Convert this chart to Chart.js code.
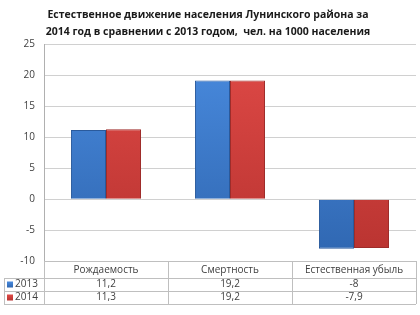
<!DOCTYPE html>
<html lang="ru">
<head>
  <meta charset="UTF-8">
  <title>Естественное движение населения</title>
  <script src="https://cdn.jsdelivr.net/npm/chart.js"></script>
  <style>
    body { margin: 0; padding: 0; background: #fff; }
    #wrap { width: 420px; height: 315px; }
  </style>
</head>
<body>
  <div id="wrap"><canvas id="chart" width="420" height="315"></canvas></div>

  <script>
    const categories = ["Рождаемость", "Смертность", "Естественная убыль"];
    const seriesNames = ["2013", "2014"];
    const values2013 = [11.2, 19.2, -8];
    const values2014 = [11.3, 19.2, -7.9];
    const titleLines = [
      "Естественное движение населения Лунинского района за",
      "2014 год в сравнении с 2013 годом,  чел. на 1000 населения"
    ];

    const FONT = "'Open Sans', 'Liberation Sans', sans-serif";
    const blue = ["#4a8ce0", "#2f66b0", "#2a5a9c"];
    const red = ["#e04a47", "#b83330", "#9e2c2a"];

    function fillGrad(cols) {
      return ctx => {
        const c = ctx.chart;
        const area = c.chartArea;
        if (!area) return cols[0];
        const g = c.ctx.createLinearGradient(0, area.top, 0, area.bottom);
        g.addColorStop(0, cols[0]);
        g.addColorStop(1, cols[1]);
        return g;
      };
    }

    function fmt(v) {
      return String(v).replace(".", ",");
    }

    // data table under the plot, aligned with the x scale
    const dataTable = {
      id: "dataTable",
      afterDraw(chart) {
        const ctx = chart.ctx;
        const a = chart.chartArea;
        const x = chart.scales.x;
        const colW = (a.right - a.left) / categories.length;
        const rows = [a.bottom, a.bottom + 17, a.bottom + 30, a.bottom + 43];
        const legendLeft = 4;

        ctx.save();
        ctx.strokeStyle = "#bfbfbf";
        ctx.lineWidth = 1;
        ctx.beginPath();
        ctx.moveTo(a.left, rows[0] + 0.5); ctx.lineTo(a.right, rows[0] + 0.5);
        for (let r = 1; r < rows.length; r++) {
          ctx.moveTo(legendLeft, rows[r] + 0.5); ctx.lineTo(a.right, rows[r] + 0.5);
        }
        for (let i = 0; i <= categories.length; i++) {
          const xx = Math.round(a.left + i * colW) + 0.5;
          ctx.moveTo(xx, rows[0]); ctx.lineTo(xx, rows[3]);
        }
        ctx.moveTo(legendLeft + 0.5, rows[1]); ctx.lineTo(legendLeft + 0.5, rows[3]);
        ctx.stroke();

        ctx.fillStyle = "#404040";
        ctx.font = "10px " + FONT;
        ctx.textAlign = "center";
        ctx.textBaseline = "middle";
        categories.forEach((c, i) => {
          const cx = x.getPixelForValue(i);
          ctx.fillText(c, cx, (rows[0] + rows[1]) / 2 + 1);
          ctx.fillText(fmt(values2013[i]), cx, (rows[1] + rows[2]) / 2);
          ctx.fillText(fmt(values2014[i]), cx, (rows[2] + rows[3]) / 2);
        });

        [blue, red].forEach((cols, k) => {
          const cy = (rows[k + 1] + rows[k + 2]) / 2;
          const g = ctx.createLinearGradient(0, cy - 3, 0, cy + 3);
          g.addColorStop(0, cols[0]);
          g.addColorStop(1, cols[1]);
          ctx.fillStyle = g;
          ctx.fillRect(7, cy - 3, 6, 6);
          ctx.fillStyle = "#404040";
          ctx.textAlign = "left";
          ctx.fillText(seriesNames[k], 15, cy);
        });
        ctx.restore();
      }
    };

    new Chart(document.getElementById("chart"), {
      type: "bar",
      data: {
        labels: categories,
        datasets: [
          {
            label: seriesNames[0],
            data: values2013,
            backgroundColor: fillGrad(blue),
            borderColor: blue[2],
            borderWidth: 1
          },
          {
            label: seriesNames[1],
            data: values2014,
            backgroundColor: fillGrad(red),
            borderColor: red[2],
            borderWidth: 1
          }
        ]
      },
      options: {
        responsive: false,
        animation: false,
        devicePixelRatio: 1,
        categoryPercentage: 0.565,
        barPercentage: 1,
        layout: { padding: { left: 0, right: 4, top: 0, bottom: 54 } },
        plugins: {
          legend: { display: false },
          tooltip: { enabled: false },
          title: {
            display: true,
            text: titleLines,
            color: "#1a1a1a",
            font: { family: FONT, size: 10.5, weight: "bold", lineHeight: 1.6 },
            padding: { top: 7, bottom: 4 }
          }
        },
        scales: {
          x: { display: false },
          y: {
            min: -10,
            max: 25,
            ticks: {
              stepSize: 5,
              color: "#404040",
              font: { family: FONT, size: 10 },
              padding: 9
            },
            grid: { color: "#d0d0d0", drawTicks: false },
            border: { color: "#b0b0b0" },
            afterFit(scale) { scale.width = 44; }
          }
        }
      },
      plugins: [dataTable]
    });
  </script>
</body>
</html>
